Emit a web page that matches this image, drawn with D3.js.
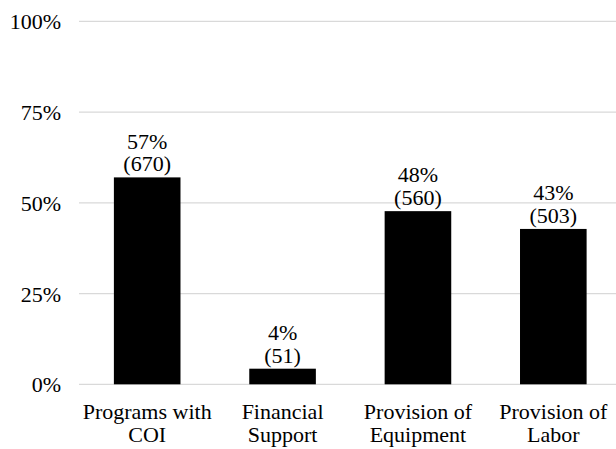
<!DOCTYPE html>
<html>
<head>
<meta charset="utf-8">
<script src="https://cdn.jsdelivr.net/npm/d3@7"></script>
<style>
  body { margin: 0; background: #fff; }
  #chart text { font-family: "Times New Roman", "Liberation Serif", Tinos, serif; }
</style>
</head>
<body>
<svg id="chart" width="616" height="449"></svg>
<script>
const categories = [["Programs with", "COI"], ["Financial", "Support"], ["Provision of", "Equipment"], ["Provision of", "Labor"]];
const values = [0.570, 0.043, 0.477, 0.428];
const valueLabels = ["57%", "4%", "48%", "43%"];
const countLabels = ["(670)", "(51)", "(560)", "(503)"];
const yTicks = [0, 0.25, 0.5, 0.75, 1];

const svg = d3.select("#chart");
const keys = categories.map((c, i) => i);
const fmt = d3.format(".0%");

const x = d3.scaleBand().domain(keys).range([79.5, 621]).paddingInner(0.508).paddingOuter(0.254);
const y = d3.scaleLinear().domain([0, 1]).range([384.3, 21.3]);

// gridlines
svg.selectAll("line.grid").data(yTicks).join("line").attr("class", "grid")
  .attr("x1", 79).attr("x2", 616)
  .attr("y1", d => y(d)).attr("y2", d => y(d))
  .attr("stroke", "#d9d9d9").attr("stroke-width", 1.3);

// bars
svg.selectAll("rect").data(values).join("rect")
  .attr("x", (d, i) => x(i)).attr("width", x.bandwidth())
  .attr("y", d => y(d)).attr("height", d => y(0) - y(d))
  .attr("fill", "#000");

// text items
const items = [];
yTicks.forEach(t => items.push({ x: 61, y: y(t) + 8, anchor: "end", text: fmt(t) }));
values.forEach((v, i) => {
  const cx = x(i) + x.bandwidth() / 2;
  items.push({ x: cx, y: y(v) - 6 - 22.7, anchor: "middle", text: valueLabels[i] });
  items.push({ x: cx, y: y(v) - 6, anchor: "middle", text: countLabels[i] });
});
categories.forEach((lines, i) => {
  lines.forEach((t, j) => items.push({ x: x(i) + x.bandwidth() / 2, y: 419 + j * 22.7, anchor: "middle", text: t }));
});

svg.selectAll("text").data(items).join("text")
  .attr("font-family", "Times New Roman")
  .attr("font-size", 22)
  .attr("fill", "#000")
  .attr("x", d => d.x)
  .attr("y", d => d.y)
  .attr("text-anchor", d => d.anchor)
  .text(d => d.text);
</script>
</body>
</html>
